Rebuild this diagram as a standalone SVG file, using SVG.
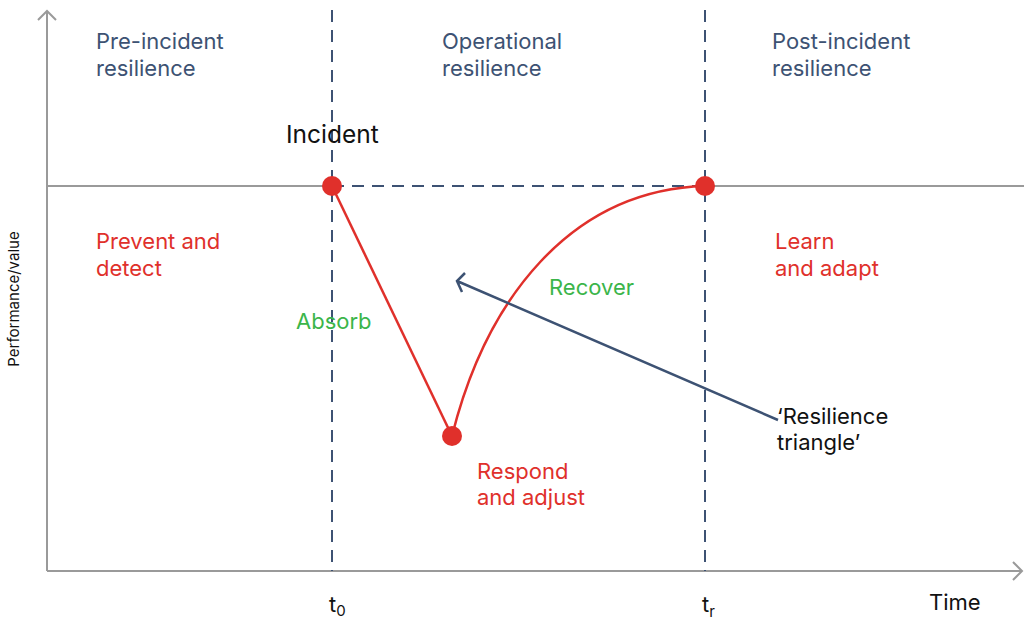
<svg xmlns="http://www.w3.org/2000/svg" width="1024" height="621" viewBox="0 0 1024 621">
  <style>
    text { font-family: Inter, "Noto Sans", "Liberation Sans", sans-serif; }
    .axis { stroke: #9a9a9a; stroke-width: 2; fill: none; }
    .dash { stroke: #3d5273; stroke-width: 2; stroke-dasharray: 12 8; fill: none; }
    .phase { font-size: 22px; fill: #3d5273; }
    .act { font-size: 22px; fill: #e0302b; }
    .green { font-size: 22px; fill: #3bb54a; }
    .dark { font-size: 22px; fill: #111; }
    .pt { fill: #e0302b; }
  </style>
  <rect width="1024" height="621" fill="#fff"/>

  <!-- axes -->
  <g id="axes">
    <path class="axis" d="M47,571 V11 M38,20 L47,11 L56,20"/>
    <path class="axis" d="M47,571 H1022 M1013,562 L1022,571 L1013,580"/>
    <text x="0" y="0" font-size="15" fill="#111" text-anchor="middle" transform="translate(19,299) rotate(-90)">Performance/value</text>
    <text x="929" y="610" class="dark">Time</text>
    <text x="329" y="612" class="dark">t<tspan font-size="15" dy="4">0</tspan></text>
    <text x="702" y="612" class="dark">t<tspan font-size="15" dy="5">r</tspan></text>
  </g>

  <!-- baseline and phase dividers -->
  <g id="connectors">
    <path class="axis" d="M47,186 H332 M705,186 H1024"/>
    <path class="dash" d="M332,186 H705"/>
    <path class="dash" d="M332,10 V571"/>
    <path class="dash" d="M705,10 V571"/>
    <path d="M332,186 L452,436" stroke="#e0302b" stroke-width="2.5" fill="none"/>
    <path d="M452,436 C486,300 570,190 705,186" stroke="#e0302b" stroke-width="2.5" fill="none"/>
    <path d="M778,420 L457,281 M465,273 L457,281 L462,292" stroke="#3d5273" stroke-width="2.5" fill="none"/>
  </g>

  <!-- phase headings -->
  <g id="phase-pre"><text class="phase" x="96" y="49">Pre-incident</text><text class="phase" x="96" y="76">resilience</text></g>
  <g id="phase-op"><text class="phase" x="442" y="49">Operational</text><text class="phase" x="442" y="76">resilience</text></g>
  <g id="phase-post"><text class="phase" x="772" y="49">Post-incident</text><text class="phase" x="772" y="76">resilience</text></g>

  <!-- points -->
  <g id="incident"><circle class="pt" cx="332" cy="186" r="10"/><text x="286" y="143" font-size="24.5" fill="#111">Incident</text></g>
  <g id="recovered"><circle class="pt" cx="705" cy="186" r="10"/></g>
  <g id="low-point"><circle class="pt" cx="452" cy="436" r="10"/></g>

  <!-- activity labels -->
  <g id="prevent"><text class="act" x="96" y="249">Prevent and</text><text class="act" x="96" y="276">detect</text></g>
  <g id="learn"><text class="act" x="775" y="249">Learn</text><text class="act" x="775" y="276">and adapt</text></g>
  <g id="respond"><text class="act" x="477" y="479">Respond</text><text class="act" x="477" y="505">and adjust</text></g>
  <g id="absorb"><text class="green" x="296" y="329">Absorb</text></g>
  <g id="recover"><text class="green" x="549" y="295">Recover</text></g>
  <g id="triangle"><text class="dark" x="777" y="424">‘Resilience</text><text class="dark" x="777" y="450">triangle’</text></g>
</svg>
